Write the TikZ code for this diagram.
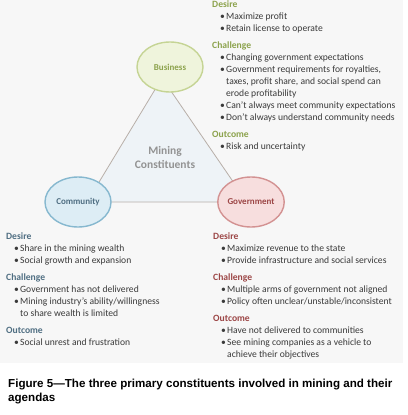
\documentclass[tikz,border=0pt]{standalone}
\usepackage{fontspec}
\usetikzlibrary{shapes.geometric}
\setmainfont{Carlito}
\newfontfamily\capfont{Liberation Sans}
\definecolor{bgpanel}{HTML}{F7F7F7}
\definecolor{bodytxt}{HTML}{3A3A3A}
\definecolor{busfill}{HTML}{EFF4DC}
\definecolor{busline}{HTML}{C5D494}
\definecolor{bushead}{HTML}{8CA24C}
\definecolor{comfill}{HTML}{DDEDF5}
\definecolor{comline}{HTML}{86B8CF}
\definecolor{comhead}{HTML}{4F6E82}
\definecolor{govfill}{HTML}{F7DEDE}
\definecolor{govline}{HTML}{D39292}
\definecolor{govhead}{HTML}{9C4646}
\definecolor{trifill}{HTML}{EEF3F7}
\definecolor{triline}{HTML}{B8AFA8}
\newcommand{\itm}[1]{\hspace*{8pt}\makebox[6pt][l]{\textbullet}#1}
\newcommand{\cnt}[1]{\hspace*{14pt}#1}
\begin{document}
\begin{tikzpicture}[x=1pt, y=-1pt,
  every node/.style={inner sep=0pt},
  actor/.style={ellipse, draw, line width=1.4pt, minimum width=66pt, minimum height=50pt, font=\fontsize{9}{10}\selectfont\bfseries},
  agenda/.style={anchor=north west, align=left, text=bodytxt, font=\fontsize{9.6}{12}\selectfont}]
\useasboundingbox (0,0) rectangle (407,415);
\fill[bgpanel] (0,0) rectangle (403,363);
% triangle behind the three constituents
\coordinate (apex) at (162,78);
\coordinate (left) at (87,202);
\coordinate (right) at (247,202);
\draw[triline, fill=trifill, line width=0.8pt] (apex) -- (left) -- (right) -- cycle;
\node[text=gray!85, font=\fontsize{11.5}{14}\selectfont\bfseries, align=center] (mining) at (165,158) {Mining\\Constituents};
\node[actor, fill=busfill, draw=busline, text=bushead] (business) at (170,67) {Business};
\node[actor, fill=comfill, draw=comline, text=comhead] (community) at (78,202) {Community};
\node[actor, fill=govfill, draw=govline, text=govhead] (government) at (251,202) {Government};
% agendas
\node[agenda] (busagenda) at (212,1) {%
  \textcolor{bushead}{\bfseries Desire}\\
  \itm{Maximize profit}\\
  \itm{Retain license to operate}\\[5pt]
  \textcolor{bushead}{\bfseries Challenge}\\
  \itm{Changing government expectations}\\
  \itm{Government requirements for royalties,}\\
  \cnt{taxes, profit share, and social spend can}\\
  \cnt{erode profitability}\\
  \itm{Can't always meet community expectations}\\
  \itm{Don't always understand community needs}\\[5pt]
  \textcolor{bushead}{\bfseries Outcome}\\
  \itm{Risk and uncertainty}};
\node[agenda] (comagenda) at (6,233) {%
  \textcolor{comhead}{\bfseries Desire}\\
  \itm{Share in the mining wealth}\\
  \itm{Social growth and expansion}\\[5pt]
  \textcolor{comhead}{\bfseries Challenge}\\
  \itm{Government has not delivered}\\
  \itm{Mining industry's ability/willingness}\\
  \cnt{to share wealth is limited}\\[5pt]
  \textcolor{comhead}{\bfseries Outcome}\\
  \itm{Social unrest and frustration}};
\node[agenda] (govagenda) at (213,233) {%
  \textcolor{govhead}{\bfseries Desire}\\
  \itm{Maximize revenue to the state}\\
  \itm{Provide infrastructure and social services}\\[5pt]
  \textcolor{govhead}{\bfseries Challenge}\\
  \itm{Multiple arms of government not aligned}\\
  \itm{Policy often unclear/unstable/inconsistent}\\[5pt]
  \textcolor{govhead}{\bfseries Outcome}\\
  \itm{Have not delivered to communities}\\
  \itm{See mining companies as a vehicle to}\\
  \cnt{achieve their objectives}};
\node[anchor=base west, align=left, font=\capfont\fontsize{11.6}{14}\selectfont\bfseries] (caption) at (8,401)
  {Figure 5—The three primary constituents involved in mining and their\\agendas};
\end{tikzpicture}
\end{document}
